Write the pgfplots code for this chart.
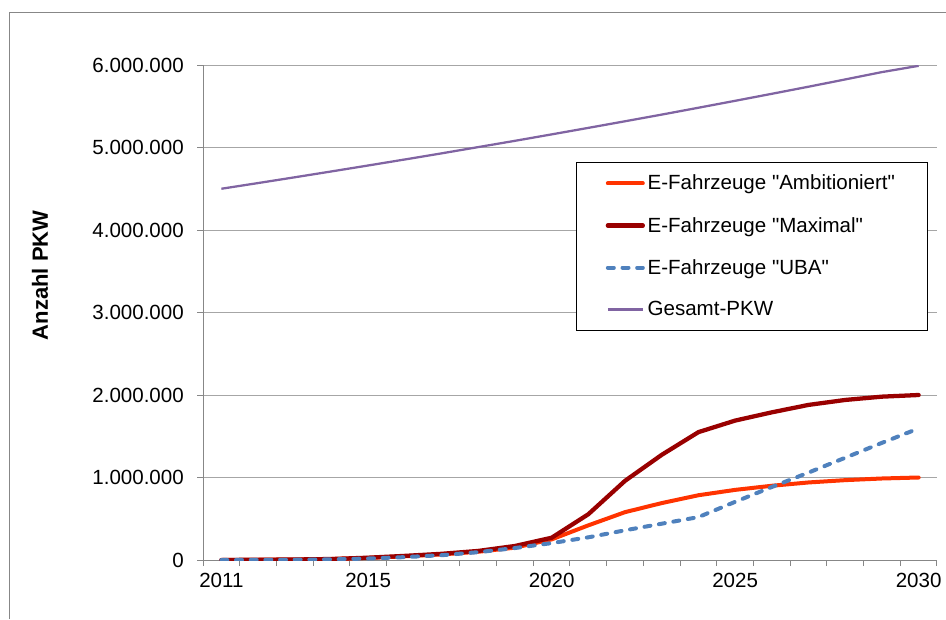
\documentclass[border=0pt]{standalone}
\usepackage{fontspec}
\setmainfont{Liberation Sans}
\usepackage{pgfplots}
\pgfplotsset{compat=1.18}
\usepackage{pgfplotstable}

\definecolor{ambi}{HTML}{FF3300}
\definecolor{maxi}{HTML}{990000}
\definecolor{uba}{HTML}{4F81BD}
\definecolor{gesamt}{HTML}{8064A2}
\definecolor{axisgray}{HTML}{878787}
\definecolor{gridgray}{HTML}{A6A6A6}

% Jahr, Ambitioniert, Maximal, UBA, Gesamt-PKW
\pgfplotstableread{
year ambi    maxi    uba     gesamt
2011 0       0       0       4500000
2012 3000    3000    1000    4569000
2013 6000    6000    3000    4639000
2014 12000   12000   8000    4710000
2015 25000   28000   18000   4782000
2016 45000   50000   35000   4855000
2017 68000   75000   58000   4929000
2018 100000  110000  95000   5005000
2019 150000  170000  145000  5081000
2020 250000  270000  205000  5159000
2021 420000  555000  275000  5238000
2022 580000  960000  360000  5318000
2023 690000  1275000 440000  5399000
2024 785000  1550000 520000  5482000
2025 850000  1690000 705000  5566000
2026 900000  1790000 885000  5651000
2027 940000  1880000 1060000 5737000
2028 968000  1940000 1240000 5825000
2029 988000  1980000 1420000 5914000
2030 1000000 2000000 1595000 5990000
}\data

\begin{document}
\begin{tikzpicture}[x=1pt,y=1pt]
\useasboundingbox (0,0) rectangle (709.5,464.25);
\draw[axisgray, line width=0.75pt] (6.75,0) -- (6.75,454.5) -- (709.5,454.5);
\begin{axis}[
  at={(152.25pt,44.25pt)}, anchor=south west,
  scale only axis, width=550.5pt, height=371.25pt,
  xmin=2010.5, xmax=2030.5, ymin=0, ymax=6000000,
  axis x line*=bottom, axis y line*=left,
  axis line style={draw=axisgray, line width=0.75pt, -},
  tick align=outside, major tick length=4.5pt,
  tick style={draw=axisgray, line width=0.75pt},
  xtick={2010.5,2011.5,...,2030.5}, xticklabels={},
  extra x ticks={2011,2015,2020,2025,2030},
  extra x tick labels={2011,2015,2020,2025,2030},
  extra x tick style={major tick length=0pt},
  ytick={0,1000000,2000000,3000000,4000000,5000000,6000000},
  ymajorgrids, grid style={draw=gridgray, line width=0.75pt},
  scaled y ticks=false,
  /pgf/number format/assume math mode=true,
  y tick label style={/pgf/number format/fixed, /pgf/number format/1000 sep={.}},
  tick label style={font=\fontsize{15.4}{18}\selectfont, inner sep=0pt},
  yticklabel style={xshift=-9.75pt},
  xticklabel style={yshift=-9.75pt},
  ylabel={\bfseries Anzahl PKW},
  ylabel style={font=\fontsize{16.5}{19}\selectfont, at={(axis description cs:-0.222,0.575)}, anchor=center},
  legend style={at={(axis description cs:0.508,0.804)}, anchor=north west,
    draw=black, line width=0.75pt, fill=white,
    font=\fontsize{15.4}{18}\selectfont,
    inner xsep=22pt, inner ysep=7.4pt, row sep=14.9pt},
  legend cell align=left,
  legend image code/.code={\draw[#1] (0pt,0pt) -- (26.25pt,0pt);},
  no markers,
]
\addplot[ambi, line width=3pt, line join=round, line cap=round] table[x=year, y=ambi] {\data};
\addplot[maxi, line width=3.2pt, line join=round, line cap=round] table[x=year, y=maxi] {\data};
\addplot[uba, line width=3pt, line join=round, line cap=round, dash pattern=on 4.5pt off 6.5pt] table[x=year, y=uba] {\data};
\addplot[gesamt, line width=1.7pt, line join=round] table[x=year, y=gesamt] {\data};
\legend{E-Fahrzeuge \textquotedbl Ambitioniert\textquotedbl, E-Fahrzeuge \textquotedbl Maximal\textquotedbl, E-Fahrzeuge \textquotedbl UBA\textquotedbl, Gesamt-PKW}
\end{axis}
\end{tikzpicture}
\end{document}
